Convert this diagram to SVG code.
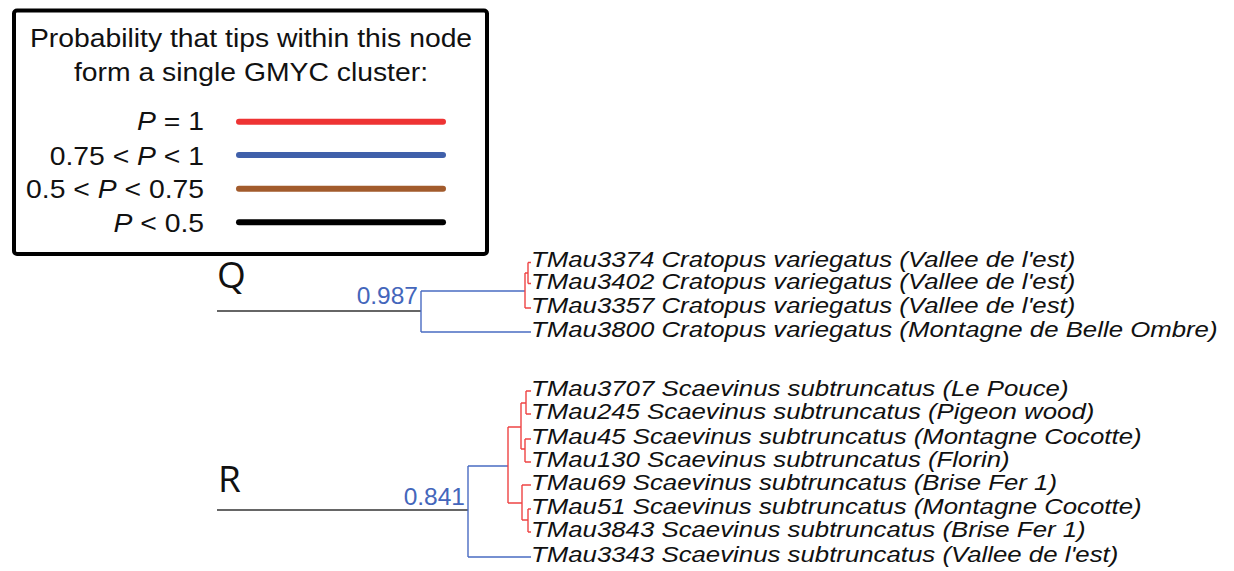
<svg xmlns="http://www.w3.org/2000/svg" width="1234" height="571" viewBox="0 0 1234 571">
<style>
.leg{font-family:"Liberation Sans",Arial,sans-serif;font-size:25px;fill:#111}
.tip{font-family:"Liberation Sans",Arial,sans-serif;font-size:21.5px;font-style:italic;fill:#111}
.clade{font-family:"Open Sans","Liberation Sans",sans-serif;font-size:37px;fill:#111}
.sup{font-family:"Liberation Sans",Arial,sans-serif;font-size:24.5px;fill:#4466bb;text-anchor:end}
.bk{stroke:#333;stroke-width:1.6;fill:none}
.bl{stroke:#4a6cc2;stroke-width:1.4;fill:none}
.rd{stroke:#ee4444;stroke-width:1.4;fill:none}
.ll{stroke-width:6;stroke-linecap:round}
</style>
<rect x="0" y="0" width="1234" height="571" fill="#fff"/>
<g id="legend">
<rect x="14" y="10.5" width="473" height="243.5" rx="3" fill="#fff" stroke="#000" stroke-width="4"/>
<g transform="translate(251,0) scale(1.133,1)">
<text class="leg" x="0" y="47.5" text-anchor="middle">Probability that tips within this node</text>
<text class="leg" x="0" y="81.5" text-anchor="middle">form a single GMYC cluster:</text>
</g>
<g transform="translate(204,0) scale(1.133,1)">
<text class="leg" x="0" y="130.5" text-anchor="end"><tspan font-style="italic">P</tspan> = 1</text>
<text class="leg" x="0" y="165" text-anchor="end">0.75 &lt; <tspan font-style="italic">P</tspan> &lt; 1</text>
<text class="leg" x="0" y="198.5" text-anchor="end">0.5 &lt; <tspan font-style="italic">P</tspan> &lt; 0.75</text>
<text class="leg" x="0" y="232.5" text-anchor="end"><tspan font-style="italic">P</tspan> &lt; 0.5</text>
</g>
<line class="ll" x1="239" y1="121.7" x2="443" y2="121.7" stroke="#ee3333"/>
<line class="ll" x1="239" y1="155" x2="443" y2="155" stroke="#4060aa"/>
<line class="ll" x1="239" y1="188.7" x2="443" y2="188.7" stroke="#a25b2c"/>
<line class="ll" x1="239" y1="222.3" x2="443" y2="222.3" stroke="#000"/>
</g>
<g id="connectors">
<path class="bk" d="M217,311H421"/>
<path class="bl" d="M421,291V332M421,291H525M421,332H531"/>
<path class="rd" d="M525,273V308M525,273H528M525,308H531M528,262.5V283.5M528,262.5H531M528,283.5H531"/>
<path class="bk" d="M217,510H468"/>
<path class="bl" d="M468,466V557M468,466H508M468,557H531"/>
<path class="rd" d="M508,427V503M508,427H521M521,403V449M521,403H526M526,391V414M526,391H531M526,414H531M521,449H525M525,439V462M525,439H531M525,462H531M508,503H522M522,485V520M522,485H531M522,520H528M528,509V532M528,509H531M528,532H531"/>
</g>
<g id="clade-Q">
<text class="clade" x="217" y="288">Q</text>
<text class="sup" x="418" y="304">0.987</text>
</g>
<g id="clade-R">
<text class="clade" x="218" y="492">R</text>
<text class="sup" x="465" y="505">0.841</text>
</g>
<g id="tips" transform="translate(531,0) scale(1.2,1)">
<text class="tip" x="0" y="267">TMau3374 Cratopus variegatus (Vallee de l'est)</text>
<text class="tip" x="0" y="289">TMau3402 Cratopus variegatus (Vallee de l'est)</text>
<text class="tip" x="0" y="313">TMau3357 Cratopus variegatus (Vallee de l'est)</text>
<text class="tip" x="0" y="337">TMau3800 Cratopus variegatus (Montagne de Belle Ombre)</text>
<text class="tip" x="0" y="396">TMau3707 Scaevinus subtruncatus (Le Pouce)</text>
<text class="tip" x="0" y="419">TMau245 Scaevinus subtruncatus (Pigeon wood)</text>
<text class="tip" x="0" y="444">TMau45 Scaevinus subtruncatus (Montagne Cocotte)</text>
<text class="tip" x="0" y="467">TMau130 Scaevinus subtruncatus (Florin)</text>
<text class="tip" x="0" y="490">TMau69 Scaevinus subtruncatus (Brise Fer 1)</text>
<text class="tip" x="0" y="514">TMau51 Scaevinus subtruncatus (Montagne Cocotte)</text>
<text class="tip" x="0" y="537">TMau3843 Scaevinus subtruncatus (Brise Fer 1)</text>
<text class="tip" x="0" y="562">TMau3343 Scaevinus subtruncatus (Vallee de l'est)</text>
</g>
</svg>
